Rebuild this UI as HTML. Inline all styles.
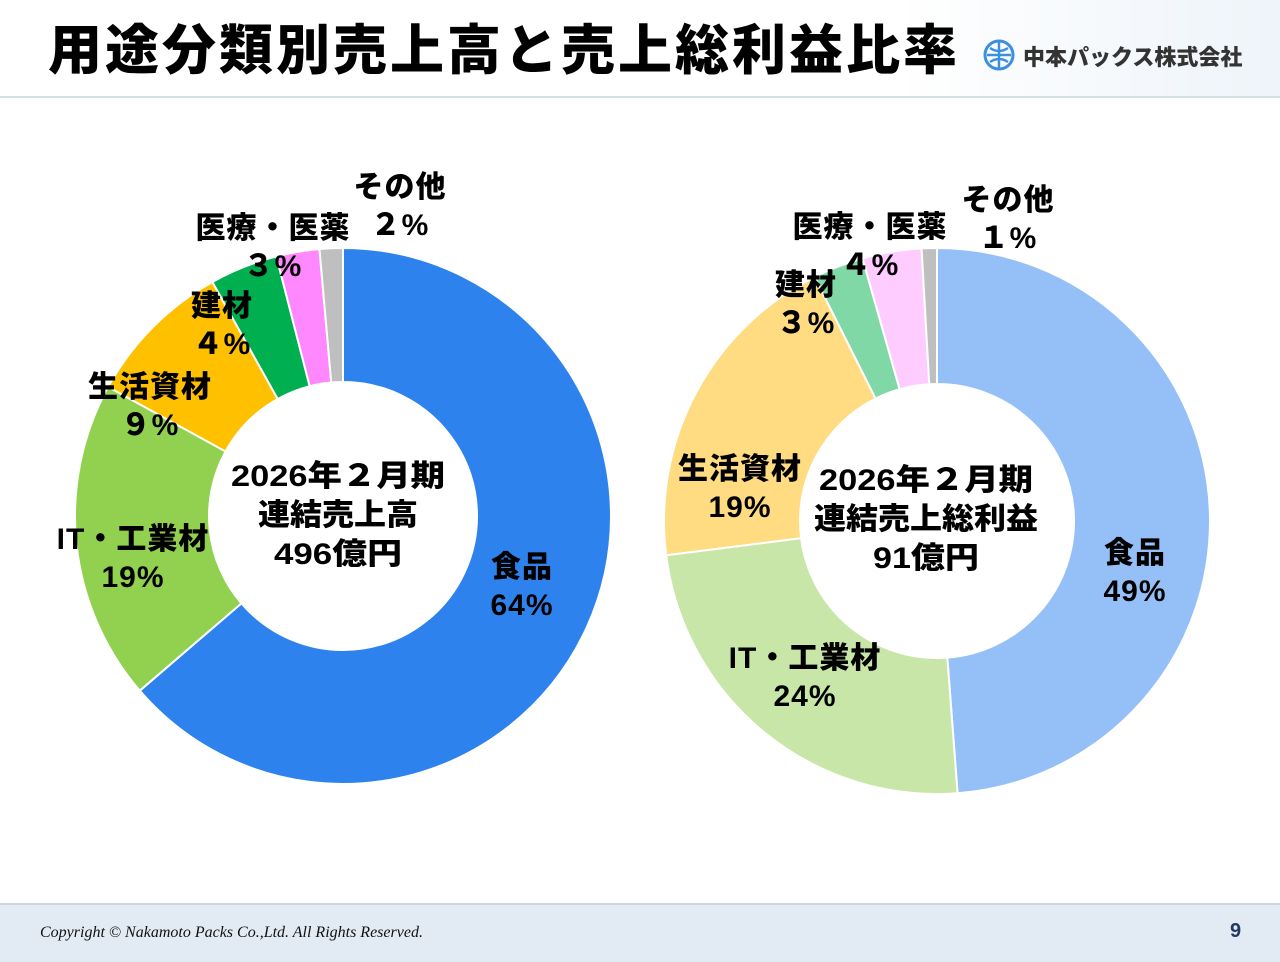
<!DOCTYPE html>
<html><head><meta charset="utf-8">
<style>
body{margin:0;width:1280px;height:960px;overflow:hidden;background:#fff;font-family:"Liberation Sans","Noto Sans CJK JP",sans-serif;position:relative}
#hdr{position:absolute;left:0;top:0;width:1280px;height:96px;background:linear-gradient(90deg,#fff 0%,#fff 70%,#eef4fa 100%);border-bottom:2px solid #d6dde6}
#title{position:absolute;left:48px;top:18px;font-size:54px;line-height:66px;font-weight:900;color:#000;letter-spacing:3px;white-space:nowrap}
#logo{position:absolute;left:982px;top:38px;width:34px;height:34px}
#logotext{position:absolute;left:1023px;top:40px;font-size:22px;font-weight:900;color:#333;white-space:nowrap}
#ftr{position:absolute;left:0;top:903px;width:1280px;height:57px;background:#e2ebf4;border-top:2px solid #cdd5dd}
#copy{position:absolute;left:40px;top:924px;font-family:"Liberation Serif",serif;font-style:italic;font-size:16px;color:#111}
#pg{position:absolute;left:1230px;top:920px;font-size:20px;font-weight:bold;color:#1f3b66}
svg text{font-family:"Liberation Sans","Noto Sans CJK JP",sans-serif;font-weight:900;fill:#000}
</style></head><body>
<div id="hdr"></div>
<div id="title">用途分類別売上高と売上総利益比率</div>
<svg id="logo" viewBox="0 0 34 34"><circle cx="17" cy="17" r="14" fill="none" stroke="#3a8fe0" stroke-width="3"/><path d="M17 3V31M5 17H29M8 10Q17 16 26 10M8 24Q17 18 26 24" stroke="#3a8fe0" stroke-width="2.5" fill="none"/></svg>
<div id="logotext">中本パックス株式会社</div>

<svg id="chart" width="1280" height="960" style="position:absolute;left:0;top:0">
<g id="left"></g><g id="right"></g>
<text x="338" y="486" font-size="30" text-anchor="middle" textLength="214" lengthAdjust="spacingAndGlyphs">2026年２月期</text>
<text x="338" y="525" font-size="30" text-anchor="middle" textLength="160" lengthAdjust="spacingAndGlyphs">連結売上高</text>
<text x="338" y="564" font-size="30" text-anchor="middle" textLength="128" lengthAdjust="spacingAndGlyphs">496億円</text>
<text x="926" y="490" font-size="30" text-anchor="middle" textLength="214" lengthAdjust="spacingAndGlyphs">2026年２月期</text>
<text x="926" y="529" font-size="30" text-anchor="middle" textLength="224" lengthAdjust="spacingAndGlyphs">連結売上総利益</text>
<text x="926" y="568" font-size="30" text-anchor="middle" textLength="106" lengthAdjust="spacingAndGlyphs">91億円</text>
</svg>
<div id="ftr"></div>
<div id="copy">Copyright © Nakamoto Packs Co.,Ltd. All Rights Reserved.</div>
<div id="pg">9</div>
<script>
const categories=["食品","IT・工業材","生活資材","建材","医療・医薬","その他"];
const leftValues=[63.7,19.3,8.9,4.1,2.6,1.4];
const leftLabels=["64%","19%","９%","４%","３%","２%"];
const rightValues=[48.8,24.2,19.6,3.0,3.5,0.9];
const rightLabels=["49%","24%","19%","３%","４%","１%"];
const leftColors=["#2e82ee","#92d050","#ffc000","#00b050","#ff88ff","#bfbfbf"];
const rightColors=["#95c0f7","#c8e6a8","#ffdc82","#80d8a6","#ffccff","#bfbfbf"];
const NS="http://www.w3.org/2000/svg";
const leftLabelPos=[[522,577],[133,549],[150,397],[222,316],[273,238],[400,197]];
const rightLabelPos=[[1135,563],[805,668],[740,479],[806,295],[870,237],[1008,210]];
function donut(g,cx,cy,ro,ri,vals,cols,name){
  const tot=vals.reduce((a,b)=>a+b,0);let a0=0;
  vals.forEach((v,i)=>{
    const a1=a0+v/tot*2*Math.PI;
    const p=(r,a)=>[cx+r*Math.sin(a),cy-r*Math.cos(a)];
    const [x1,y1]=p(ro,a0),[x2,y2]=p(ro,a1),[x3,y3]=p(ri,a1),[x4,y4]=p(ri,a0);
    const lg=(a1-a0)>Math.PI?1:0;
    const path=document.createElementNS(NS,"path");
    path.setAttribute("d",`M${x1},${y1}A${ro},${ro} 0 ${lg} 1 ${x2},${y2}L${x3},${y3}A${ri},${ri} 0 ${lg} 0 ${x4},${y4}Z`);
    path.setAttribute("fill",cols[i]);path.setAttribute("stroke","#fff");path.setAttribute("stroke-width","2");
    
    
    g.appendChild(path);a0=a1;
  });
}
function labels(g,pos,lbls,name){
  pos.forEach((p,i)=>{
    [[categories[i],0],[lbls[i],38]].forEach(([t,dy],k)=>{
      const tx=document.createElementNS(NS,"text");
      tx.setAttribute("x",p[0]);tx.setAttribute("y",p[1]+dy);tx.setAttribute("font-size","30");tx.setAttribute("text-anchor","middle");
      tx.setAttribute("letter-spacing","1");
      tx.textContent=t;
      
      
      g.appendChild(tx);
    });
  });
}
const L=document.getElementById("left"),R=document.getElementById("right");
donut(L,343,516,268,134,leftValues,leftColors,"left");
donut(R,937,521,273,137,rightValues,rightColors,"right");
labels(L,leftLabelPos,leftLabels,"left");
labels(R,rightLabelPos,rightLabels,"right");
</script>
</body></html>
